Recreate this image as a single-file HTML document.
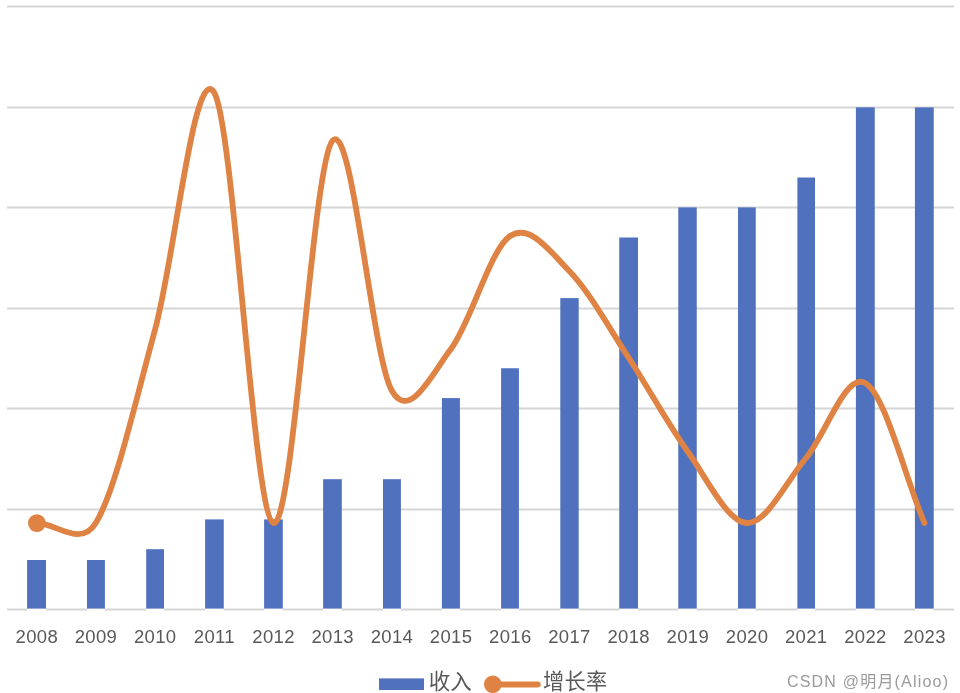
<!DOCTYPE html>
<html lang="zh"><head><meta charset="utf-8"><title>收入 增长率</title>
<style>html,body{margin:0;padding:0;background:#fff}body{width:960px;height:693px;overflow:hidden;position:relative}svg{display:block;position:absolute;left:0;top:0}text{font-family:"Liberation Sans","Noto Sans CJK SC",sans-serif}</style></head><body>
<svg width="960" height="693" viewBox="0 0 960 693">
<rect width="960" height="693" fill="#fff"/>
<g stroke="#d5d5d5" stroke-width="1.9">
<line x1="7.0" y1="6.50" x2="954.0" y2="6.50"/>
<line x1="7.0" y1="107.50" x2="954.0" y2="107.50"/>
<line x1="7.0" y1="207.50" x2="954.0" y2="207.50"/>
<line x1="7.0" y1="308.50" x2="954.0" y2="308.50"/>
<line x1="7.0" y1="408.50" x2="954.0" y2="408.50"/>
<line x1="7.0" y1="509.50" x2="954.0" y2="509.50"/>
<line x1="7.0" y1="609.50" x2="954.0" y2="609.50"/>
</g>
<g fill="#4f71be">
<rect x="27.10" y="608" width="18.90" height="3" fill="#fdfcfb"/>
<rect x="27.10" y="560.00" width="18.90" height="48.60"/>
<rect x="87.00" y="608" width="17.90" height="3" fill="#fdfcfb"/>
<rect x="87.00" y="560.00" width="17.90" height="48.60"/>
<rect x="146.20" y="608" width="17.80" height="3" fill="#fdfcfb"/>
<rect x="146.20" y="549.20" width="17.80" height="59.40"/>
<rect x="205.10" y="608" width="18.65" height="3" fill="#fdfcfb"/>
<rect x="205.10" y="519.40" width="18.65" height="89.20"/>
<rect x="264.10" y="608" width="18.70" height="3" fill="#fdfcfb"/>
<rect x="264.10" y="519.40" width="18.70" height="89.20"/>
<rect x="323.10" y="608" width="18.70" height="3" fill="#fdfcfb"/>
<rect x="323.10" y="479.20" width="18.70" height="129.40"/>
<rect x="383.00" y="608" width="17.90" height="3" fill="#fdfcfb"/>
<rect x="383.00" y="479.20" width="17.90" height="129.40"/>
<rect x="441.90" y="608" width="18.00" height="3" fill="#fdfcfb"/>
<rect x="441.90" y="398.10" width="18.00" height="210.50"/>
<rect x="501.10" y="608" width="17.80" height="3" fill="#fdfcfb"/>
<rect x="501.10" y="368.25" width="17.80" height="240.35"/>
<rect x="560.30" y="608" width="18.40" height="3" fill="#fdfcfb"/>
<rect x="560.30" y="298.10" width="18.40" height="310.50"/>
<rect x="619.25" y="608" width="18.75" height="3" fill="#fdfcfb"/>
<rect x="619.25" y="237.50" width="18.75" height="371.10"/>
<rect x="678.25" y="608" width="18.50" height="3" fill="#fdfcfb"/>
<rect x="678.25" y="207.40" width="18.50" height="401.20"/>
<rect x="738.00" y="608" width="17.75" height="3" fill="#fdfcfb"/>
<rect x="738.00" y="207.40" width="17.75" height="401.20"/>
<rect x="797.40" y="608" width="17.60" height="3" fill="#fdfcfb"/>
<rect x="797.40" y="177.50" width="17.60" height="431.10"/>
<rect x="855.90" y="608" width="18.85" height="3" fill="#fdfcfb"/>
<rect x="855.90" y="107.40" width="18.85" height="501.20"/>
<rect x="914.90" y="608" width="18.85" height="3" fill="#fdfcfb"/>
<rect x="914.90" y="107.40" width="18.85" height="501.20"/>
</g>
<path d="M36.59 523.00 C56.32 523.00 80.31 548.23 95.78 523.00 C115.51 490.83 135.24 401.75 154.97 330.00 C174.70 258.25 194.43 60.33 214.16 92.50 C233.89 124.67 253.61 514.98 273.34 523.00 C293.07 531.02 312.80 162.68 332.53 140.60 C352.26 118.52 371.99 355.77 391.72 390.50 C409.57 421.93 431.18 374.75 450.91 349.00 C470.64 323.25 490.36 249.00 510.09 236.00 C529.82 223.00 549.55 250.75 569.28 271.00 C589.01 291.25 608.74 327.42 628.47 357.50 C648.20 387.58 667.93 423.92 687.66 451.50 C707.39 479.08 727.11 521.92 746.84 523.00 C766.57 524.08 786.30 481.33 806.03 458.00 C825.76 434.67 845.49 372.17 865.22 383.00 C884.95 393.83 904.68 476.33 924.41 523.00" fill="none" stroke="#de8344" stroke-width="5.8" stroke-linecap="round" stroke-linejoin="round"/>
<circle cx="36.89" cy="523.10" r="8.9" fill="#de8344"/>
<g fill="#595959" font-size="18.5" letter-spacing="0.35" text-anchor="middle">
<text x="36.79" y="643.2">2008</text>
<text x="95.98" y="643.2">2009</text>
<text x="155.17" y="643.2">2010</text>
<text x="214.36" y="643.2">2011</text>
<text x="273.54" y="643.2">2012</text>
<text x="332.73" y="643.2">2013</text>
<text x="391.92" y="643.2">2014</text>
<text x="451.11" y="643.2">2015</text>
<text x="510.29" y="643.2">2016</text>
<text x="569.48" y="643.2">2017</text>
<text x="628.67" y="643.2">2018</text>
<text x="687.86" y="643.2">2019</text>
<text x="747.04" y="643.2">2020</text>
<text x="806.23" y="643.2">2021</text>
<text x="865.42" y="643.2">2022</text>
<text x="924.61" y="643.2">2023</text>
</g>
<rect x="379" y="678.4" width="45" height="11.6" fill="#4f71be"/>
<text x="428.8" y="688.8" font-size="21.5" fill="#595959">收入</text>
<line x1="493.4" y1="684.4" x2="537.7" y2="684.4" stroke="#de8344" stroke-width="6" stroke-linecap="round"/>
<circle cx="492.8" cy="684.3" r="8.8" fill="#de8344"/>
<text x="543.1" y="688.8" font-size="21.2" letter-spacing="0.3" fill="#595959">增长率</text>
<text x="787" y="686.7" font-size="16" fill="#9a9a9a" textLength="161" lengthAdjust="spacing">CSDN @明月(Alioo)</text>
</svg></body></html>
